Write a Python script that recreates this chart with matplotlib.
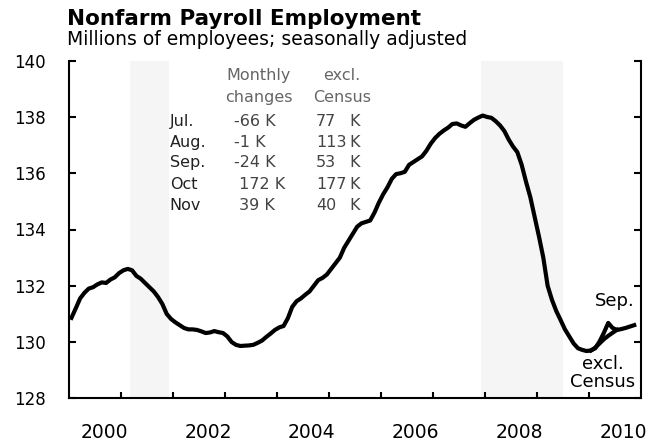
import matplotlib
matplotlib.use("Agg")
import matplotlib.pyplot as plt
import numpy as np

# ---- data (millions of employees, monthly, Jan 2000 - Nov 2010) ----
payroll_2000 = [130.86, 131.20, 131.55, 131.75, 131.90, 131.95, 132.05, 132.12, 132.10, 132.22, 132.30, 132.45]
payroll_2001 = [132.55, 132.60, 132.55, 132.35, 132.25, 132.10, 131.95, 131.80, 131.60, 131.35, 131.00, 130.82]
payroll_2002 = [130.70, 130.60, 130.50, 130.45, 130.45, 130.43, 130.38, 130.32, 130.34, 130.39, 130.35, 130.32]
payroll_2003 = [130.20, 130.00, 129.90, 129.86, 129.87, 129.88, 129.90, 129.97, 130.05, 130.18, 130.30, 130.43]
payroll_2004 = [130.52, 130.57, 130.85, 131.25, 131.45, 131.55, 131.68, 131.80, 132.00, 132.20, 132.28, 132.40]
payroll_2005 = [132.60, 132.80, 133.00, 133.35, 133.60, 133.85, 134.10, 134.22, 134.27, 134.32, 134.60, 134.95]
payroll_2006 = [135.25, 135.50, 135.80, 135.97, 136.00, 136.05, 136.30, 136.40, 136.50, 136.60, 136.80, 137.05]
payroll_2007 = [137.25, 137.40, 137.52, 137.62, 137.75, 137.77, 137.70, 137.65, 137.78, 137.90, 137.98, 138.05]
payroll_2008 = [138.00, 137.97, 137.85, 137.70, 137.50, 137.20, 136.95, 136.75, 136.30, 135.70, 135.15, 134.45]
payroll_2009 = [133.75, 133.00, 132.00, 131.50, 131.10, 130.78, 130.45, 130.20, 129.95, 129.78, 129.72, 129.68]
payroll_2010 = [129.70, 129.78, 130.02, 130.33, 130.68, 130.50, 130.43, 130.46, 130.50, 130.55, 130.60]
excl_census_2010 = [129.70, 129.80, 129.95, 130.10, 130.22, 130.33, 130.43]

recession_start = [2001.17, 2007.92]
recession_end = [2001.92, 2009.50]

table_months = ["Jul.", "Aug.", "Sep.", "Oct", "Nov"]
monthly_changes = ["-66 K", "-1 K", "-24 K", " 172 K", " 39 K"]
excl_census_changes = ["77", "113", "53", "177", "40"]

year_labels = [2000, 2002, 2004, 2006, 2008, 2010]
y_ticks = [128, 130, 132, 134, 136, 138, 140]

payroll = (payroll_2000 + payroll_2001 + payroll_2002 + payroll_2003 + payroll_2004 +
           payroll_2005 + payroll_2006 + payroll_2007 + payroll_2008 + payroll_2009 + payroll_2010)
t = 2000 + (np.arange(len(payroll)) + 0.5) / 12.0
t_excl = 2010 + (np.arange(len(excl_census_2010)) + 0.5) / 12.0

W, H = 648, 442
fig = plt.figure(figsize=(W / 100, H / 100), dpi=100)
ax = fig.add_axes([69.3 / W, 1 - 398.3 / H, 571.4 / W, 337.6 / H])

for s, e in zip(recession_start, recession_end):
    ax.axvspan(s, e, facecolor="#f5f5f5", edgecolor="none", zorder=0)

ax.plot(t, payroll, color="black", lw=3.0, solid_joinstyle="round", zorder=3)
ax.plot(t_excl, excl_census_2010, color="black", lw=3.0, solid_joinstyle="round", zorder=3)

ax.set_xlim(2000, 2011)
ax.set_ylim(128, 140)

for side in ["left", "right", "bottom"]:
    ax.spines[side].set_linewidth(1.5)
    ax.spines[side].set_color("black")
ax.spines["top"].set_visible(False)

ax.set_yticks(y_ticks)
ax.set_yticklabels([str(v) for v in y_ticks])
ax.tick_params(axis="y", direction="in", length=5, width=1.5, left=True, right=True,
               labelleft=True, labelright=False, labelsize=12, pad=17)

ax.set_xticks(range(2001, 2011), minor=True)
ax.set_xticks([y + 0.67 for y in year_labels])
ax.set_xticklabels([str(y) for y in year_labels])
ax.tick_params(axis="x", which="minor", direction="in", length=4, width=1.5)
ax.tick_params(axis="x", which="major", length=0, labelsize=13.5, pad=18)

# annotations
ax.text(2010.5, 131.45, "Sep.", ha="center", va="center", fontsize=13)
ax.text(2010.27, 128.9, "excl.\nCensus", ha="center", va="center", fontsize=13,
        linespacing=1.0, multialignment="center")

# table of monthly changes
tr = ax.transAxes
fs = 11.5
hdr_col = "#666666"
ax.text(0.332, 0.955, "Monthly", transform=tr, ha="center", va="center", fontsize=fs, color=hdr_col)
ax.text(0.332, 0.890, "changes", transform=tr, ha="center", va="center", fontsize=fs, color=hdr_col)
ax.text(0.477, 0.955, "excl.", transform=tr, ha="center", va="center", fontsize=fs, color=hdr_col)
ax.text(0.477, 0.890, "Census", transform=tr, ha="center", va="center", fontsize=fs, color=hdr_col)
row_y = [0.821, 0.759, 0.697, 0.633, 0.570]
for i, yy in enumerate(row_y):
    ax.text(0.176, yy, table_months[i], transform=tr, ha="left", va="center", fontsize=fs, color="#222222")
    ax.text(0.288, yy, monthly_changes[i], transform=tr, ha="left", va="center", fontsize=fs, color="#444444")
    ax.text(0.432, yy, excl_census_changes[i], transform=tr, ha="left", va="center", fontsize=fs, color="#444444")
    ax.text(0.490, yy, "K", transform=tr, ha="left", va="center", fontsize=fs, color="#444444")

fig.text(66.7 / W, 1 - 25 / H, "Nonfarm Payroll Employment", ha="left", va="baseline",
         fontsize=15.5, fontweight="bold")
fig.text(66.7 / W, 1 - 45 / H, "Millions of employees; seasonally adjusted", ha="left",
         va="baseline", fontsize=13.5)

fig.savefig("out.png", dpi=100, facecolor="white")
